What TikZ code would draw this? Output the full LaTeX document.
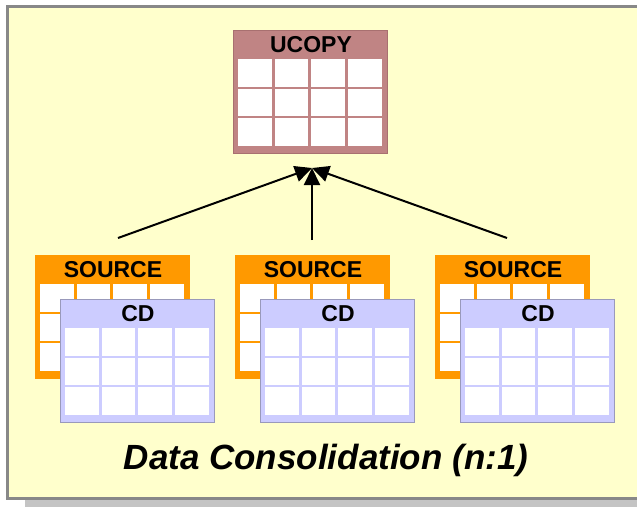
\documentclass[tikz,border=0pt]{standalone}
\usepackage{fontspec}
\setmainfont{Liberation Sans}
\usetikzlibrary{arrows.meta}

\definecolor{panelbg}{HTML}{FFFFCC}
\definecolor{panelrim}{HTML}{888888}
\definecolor{shadowgray}{HTML}{C4C4C4}
\definecolor{ucopyfill}{HTML}{C08484}
\definecolor{ucopyrim}{HTML}{A87070}
\definecolor{srcfill}{HTML}{FF9900}
\definecolor{cdfill}{HTML}{CCCCFF}
\definecolor{cdrim}{HTML}{9999BB}

\tikzset{
  tablebox/.style={anchor=north west, minimum width=154pt, minimum height=123pt, inner sep=0pt, line width=1pt},
  headlabel/.style={font=\fontsize{23}{25}\selectfont\bfseries, inner sep=0pt},
  feed/.style={line width=2pt, -{Triangle[length=17pt,width=16pt]}}
}

% table with a header and 4x3 white cells
\newcommand{\dbtable}[6]{%
  \node[tablebox, fill=#4, draw=#5] (#1) at (#2,#3) {};
  \foreach \i in {0,...,3}
    \foreach \j in {0,...,2}
      \fill[white] ({#2+5+\i*36.7},{#3+29+\j*29.6}) rectangle ++(33.5,27.5);
  \node[headlabel] (#1-head) at ({#2+78},{#3+15}) {#6};
}

\begin{document}
\begin{tikzpicture}[x=1pt, y=-1pt]
\useasboundingbox (0,0) rectangle (637,507);
% panel and shadow
\fill[shadowgray] (25,498) rectangle (640,507);
\draw[panelrim, line width=3pt, fill=panelbg] (7.5,6.5) rectangle (660,498.5);

% target
\dbtable{ucopy}{233}{30}{ucopyfill}{ucopyrim}{UCOPY}

% sources
\dbtable{src1}{35}{255}{srcfill}{srcfill}{SOURCE}
\dbtable{cd1}{60}{299}{cdfill}{cdrim}{CD}
\dbtable{src2}{235}{255}{srcfill}{srcfill}{SOURCE}
\dbtable{cd2}{260}{299}{cdfill}{cdrim}{CD}
\dbtable{src3}{435}{255}{srcfill}{srcfill}{SOURCE}
\dbtable{cd3}{460}{299}{cdfill}{cdrim}{CD}

% arrows
\coordinate (hub) at (312,168);
\coordinate (tail1) at (118,238);
\coordinate (tail2) at (312,240);
\coordinate (tail3) at (507,238);
\draw[feed] (tail1) -- (hub);
\draw[feed] (tail3) -- (hub);
\draw[feed] (tail2) -- (hub);

\node[font=\fontsize{35}{40}\selectfont\bfseries\itshape] (caption) at (326,460) {Data Consolidation (n:1)};
\end{tikzpicture}
\end{document}
